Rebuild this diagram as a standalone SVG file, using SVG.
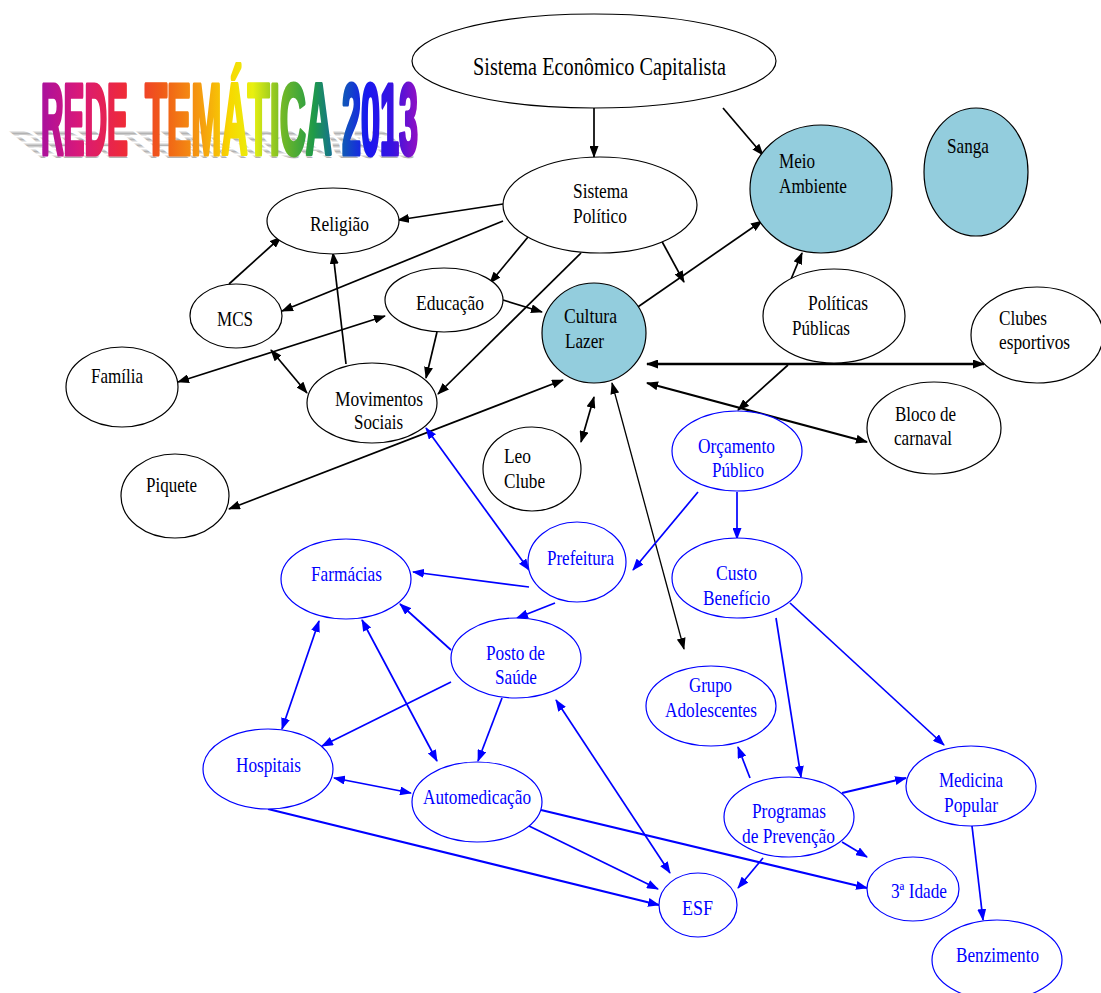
<svg xmlns="http://www.w3.org/2000/svg" width="1101" height="993" viewBox="0 0 1101 993">
<defs>
<style>
.nb{fill:#fff;stroke:#000;stroke-width:1.2}
.nc{fill:#93CDDD;stroke:#000;stroke-width:1.2}
.nu{fill:#fff;stroke:#0000FF;stroke-width:1.2}
text{font-family:"Liberation Serif","Times New Roman",serif;font-size:21px}
.tb{fill:#000}
.tu{fill:#0000FF}
.lk{stroke:#000;stroke-width:1.7;fill:none}
.lu{stroke:#0000FF;stroke-width:1.7;fill:none}
.ek{marker-end:url(#ak)}
.bk{marker-start:url(#ak);marker-end:url(#ak)}
.eu{marker-end:url(#au)}
.bu{marker-start:url(#au);marker-end:url(#au)}
.ttl{font-family:"Liberation Sans",Arial,sans-serif;font-weight:bold;font-size:100px}
</style>
<marker id="ak" markerUnits="userSpaceOnUse" markerWidth="12" markerHeight="9" refX="11" refY="4.5" orient="auto-start-reverse"><path d="M0,0 L12,4.5 L0,9 z" fill="#000"/></marker>
<marker id="au" markerUnits="userSpaceOnUse" markerWidth="12" markerHeight="9" refX="11" refY="4.5" orient="auto-start-reverse"><path d="M0,0 L12,4.5 L0,9 z" fill="#0000FF"/></marker>
<linearGradient id="rainbow" gradientUnits="userSpaceOnUse" x1="40" y1="0" x2="420" y2="0">
<stop offset="0" stop-color="#A8109E"/>
<stop offset="0.1" stop-color="#D8187A"/>
<stop offset="0.22" stop-color="#EE2A3A"/>
<stop offset="0.32" stop-color="#F05A18"/>
<stop offset="0.42" stop-color="#F59A10"/>
<stop offset="0.5" stop-color="#F8D800"/>
<stop offset="0.56" stop-color="#E8F010"/>
<stop offset="0.64" stop-color="#70B828"/>
<stop offset="0.72" stop-color="#1F9A48"/>
<stop offset="0.79" stop-color="#1060B0"/>
<stop offset="0.86" stop-color="#1818F0"/>
<stop offset="0.93" stop-color="#3A12E0"/>
<stop offset="1" stop-color="#9A10C0"/>
</linearGradient>
<pattern id="hatch" patternUnits="userSpaceOnUse" width="3" height="3"><rect width="3" height="1.4" fill="#9A9A9A"/></pattern>
</defs>
<rect width="1101" height="993" fill="#fff"/>

<g id="title">
<g transform="translate(0,158) skewX(50) scale(1,0.4) translate(0,-155)" fill="url(#hatch)" opacity="0.8">
<text class="ttl" x="39" y="155" textLength="90" lengthAdjust="spacingAndGlyphs">REDE</text>
<text class="ttl" x="143" y="155" textLength="190" lengthAdjust="spacingAndGlyphs">TEMÁTICA</text>
<text class="ttl" x="340" y="155" textLength="79" lengthAdjust="spacingAndGlyphs">2013</text>
</g>
<g fill="url(#rainbow)" stroke="url(#rainbow)" stroke-width="5" stroke-linejoin="round">
<text class="ttl" x="41" y="154" textLength="87" lengthAdjust="spacingAndGlyphs">REDE</text>
<text class="ttl" x="145" y="154" textLength="187" lengthAdjust="spacingAndGlyphs">TEMÁTICA</text>
<text class="ttl" x="342" y="154" textLength="76" lengthAdjust="spacingAndGlyphs">2013</text>
</g>
</g>

<g id="connectors">
<line class="lk ek" x1="594" y1="108" x2="594" y2="157"/>
<line class="lk ek" x1="723" y1="108" x2="763" y2="155"/>
<line class="lk ek" x1="503" y1="204" x2="398" y2="220"/>
<line class="lk ek" x1="503" y1="221" x2="282" y2="311"/>
<line class="lk ek" x1="528" y1="237" x2="490" y2="283"/>
<line class="lk ek" x1="581" y1="253" x2="438" y2="394"/>
<line class="lk ek" x1="229" y1="284" x2="281" y2="237"/>
<line class="lk ek" x1="346" y1="364" x2="333" y2="253"/>
<line class="lk ek" x1="437" y1="332" x2="426" y2="378"/>
<line class="lk ek" x1="503" y1="300" x2="542" y2="312"/>
<line class="lk bk" x1="178" y1="382" x2="385" y2="316"/>
<line class="lk bk" x1="271" y1="350" x2="307" y2="393"/>
<line class="lk bk" x1="229" y1="509" x2="563" y2="380"/>
<line class="lk ek" x1="632" y1="311" x2="762" y2="221"/>
<line class="lk ek" x1="659" y1="236" x2="684" y2="282"/>
<line class="lk ek" x1="789" y1="284" x2="802" y2="253"/>
<line class="lk bk" x1="647" y1="364" x2="984" y2="364" style="stroke-width:2.4"/>
<line class="lk bk" x1="647" y1="383" x2="867" y2="442" style="stroke-width:2.2"/>
<line class="lk ek" x1="788" y1="365" x2="738" y2="410"/>
<line class="lk bk" x1="581" y1="442" x2="594" y2="397"/>
<line class="lk bk" x1="612" y1="383" x2="684" y2="649" style="stroke-width:1.3"/>

<line class="lu eu" x1="698" y1="492" x2="633" y2="570"/>
<line class="lu eu" x1="737" y1="492" x2="737" y2="539"/>
<line class="lu eu" x1="776" y1="618" x2="801" y2="777"/>
<line class="lu eu" x1="790" y1="603" x2="944" y2="745"/>
<line class="lu eu" x1="750" y1="778" x2="738" y2="747"/>
<line class="lu eu" x1="842" y1="793" x2="906" y2="778" style="stroke-width:2.2"/>
<line class="lu eu" x1="842" y1="842" x2="867" y2="857"/>
<line class="lu eu" x1="763" y1="858" x2="738" y2="888"/>
<line class="lu eu" x1="972" y1="826" x2="983" y2="920"/>
<line class="lu eu" x1="541" y1="810" x2="867" y2="888" style="stroke-width:2.2"/>
<line class="lu eu" x1="529" y1="826" x2="658" y2="889"/>
<line class="lu eu" x1="268" y1="809" x2="659" y2="905" style="stroke-width:2.2"/>
<line class="lu bu" x1="334" y1="778" x2="411" y2="793"/>
<line class="lu bu" x1="556" y1="700" x2="670" y2="873"/>
<line class="lu eu" x1="502" y1="698" x2="478" y2="761"/>
<line class="lu eu" x1="451" y1="682" x2="322" y2="746"/>
<line class="lu eu" x1="451" y1="650" x2="400" y2="604"/>
<line class="lu bu" x1="319" y1="621" x2="282" y2="729"/>
<line class="lu bu" x1="362" y1="620" x2="437" y2="761"/>
<line class="lu eu" x1="529" y1="587" x2="413" y2="572"/>
<line class="lu eu" x1="555" y1="603" x2="517" y2="618"/>
<line class="lu bu" x1="426" y1="428" x2="529" y2="570"/>
</g>

<g id="n-sistema-economico"><ellipse class="nb" cx="594" cy="61" rx="182" ry="47"/><text class="tb" x="473" y="75" textLength="253" lengthAdjust="spacingAndGlyphs" style="font-size:25px">Sistema Econômico Capitalista</text></g>
<g id="n-sistema-politico"><ellipse class="nb" cx="600" cy="205" rx="97" ry="48"/><text class="tb" x="573" y="198" textLength="55" lengthAdjust="spacingAndGlyphs">Sistema</text><text class="tb" x="573" y="223" textLength="54" lengthAdjust="spacingAndGlyphs">Político</text></g>
<g id="n-religiao"><ellipse class="nb" cx="333" cy="221" rx="66" ry="33"/><text class="tb" x="310" y="231" textLength="59" lengthAdjust="spacingAndGlyphs">Religião</text></g>
<g id="n-mcs"><ellipse class="nb" cx="236" cy="316" rx="46" ry="32"/><text class="tb" x="217" y="326" textLength="36" lengthAdjust="spacingAndGlyphs">MCS</text></g>
<g id="n-educacao"><ellipse class="nb" cx="444" cy="300" rx="59" ry="32"/><text class="tb" x="416" y="310" textLength="68" lengthAdjust="spacingAndGlyphs">Educação</text></g>
<g id="n-cultura"><ellipse class="nc" cx="594" cy="333" rx="52" ry="50"/><text class="tb" x="564" y="323" textLength="53" lengthAdjust="spacingAndGlyphs">Cultura</text><text class="tb" x="565" y="348" textLength="39" lengthAdjust="spacingAndGlyphs">Lazer</text></g>
<g id="n-movimentos"><ellipse class="nb" cx="372" cy="403" rx="65" ry="40"/><text class="tb" x="335" y="406" textLength="88" lengthAdjust="spacingAndGlyphs">Movimentos</text><text class="tb" x="354" y="429" textLength="49" lengthAdjust="spacingAndGlyphs">Sociais</text></g>
<g id="n-meio"><ellipse class="nc" cx="821" cy="189" rx="71" ry="64"/><text class="tb" x="779" y="168" textLength="36" lengthAdjust="spacingAndGlyphs">Meio</text><text class="tb" x="779" y="193" textLength="68" lengthAdjust="spacingAndGlyphs">Ambiente</text></g>
<g id="n-sanga"><ellipse class="nc" cx="976" cy="172" rx="52" ry="64"/><text class="tb" x="947" y="153" textLength="42" lengthAdjust="spacingAndGlyphs">Sanga</text></g>
<g id="n-politicas"><ellipse class="nb" cx="834" cy="316" rx="71" ry="47"/><text class="tb" x="808" y="310" textLength="60" lengthAdjust="spacingAndGlyphs">Políticas</text><text class="tb" x="792" y="335" textLength="58" lengthAdjust="spacingAndGlyphs">Públicas</text></g>
<g id="n-clubes"><ellipse class="nb" cx="1037" cy="335" rx="66" ry="48"/><text class="tb" x="999" y="325" textLength="48" lengthAdjust="spacingAndGlyphs">Clubes</text><text class="tb" x="999" y="349" textLength="71" lengthAdjust="spacingAndGlyphs">esportivos</text></g>
<g id="n-bloco"><ellipse class="nb" cx="934" cy="428" rx="67" ry="46"/><text class="tb" x="895" y="421" textLength="61" lengthAdjust="spacingAndGlyphs">Bloco de</text><text class="tb" x="894" y="445" textLength="58" lengthAdjust="spacingAndGlyphs">carnaval</text></g>
<g id="n-familia"><ellipse class="nb" cx="122" cy="387" rx="56" ry="40"/><text class="tb" x="91" y="383" textLength="52" lengthAdjust="spacingAndGlyphs">Família</text></g>
<g id="n-piquete"><ellipse class="nb" cx="175" cy="496" rx="54" ry="42"/><text class="tb" x="146" y="492" textLength="51" lengthAdjust="spacingAndGlyphs">Piquete</text></g>
<g id="n-leo"><ellipse class="nb" cx="532" cy="469" rx="49" ry="42"/><text class="tb" x="504" y="463" textLength="27" lengthAdjust="spacingAndGlyphs">Leo</text><text class="tb" x="504" y="488" textLength="41" lengthAdjust="spacingAndGlyphs">Clube</text></g>

<g id="n-orcamento"><ellipse class="nu" cx="737" cy="451" rx="65" ry="40"/><text class="tu" x="698" y="453" textLength="77" lengthAdjust="spacingAndGlyphs">Orçamento</text><text class="tu" x="712" y="477" textLength="52" lengthAdjust="spacingAndGlyphs">Público</text></g>
<g id="n-prefeitura"><ellipse class="nu" cx="577" cy="562" rx="49" ry="40"/><text class="tu" x="547" y="565" textLength="67" lengthAdjust="spacingAndGlyphs">Prefeitura</text></g>
<g id="n-farmacias"><ellipse class="nu" cx="346" cy="579" rx="65" ry="40"/><text class="tu" x="311" y="581" textLength="71" lengthAdjust="spacingAndGlyphs">Farmácias</text></g>
<g id="n-posto"><ellipse class="nu" cx="516" cy="658" rx="65" ry="40"/><text class="tu" x="486" y="660" textLength="59" lengthAdjust="spacingAndGlyphs">Posto de</text><text class="tu" x="495" y="684" textLength="42" lengthAdjust="spacingAndGlyphs">Saúde</text></g>
<g id="n-custo"><ellipse class="nu" cx="737" cy="578" rx="65" ry="40"/><text class="tu" x="716" y="580" textLength="41" lengthAdjust="spacingAndGlyphs">Custo</text><text class="tu" x="703" y="605" textLength="67" lengthAdjust="spacingAndGlyphs">Benefício</text></g>
<g id="n-grupo"><ellipse class="nu" cx="711" cy="706" rx="65" ry="40"/><text class="tu" x="689" y="692" textLength="43" lengthAdjust="spacingAndGlyphs">Grupo</text><text class="tu" x="665" y="717" textLength="92" lengthAdjust="spacingAndGlyphs">Adolescentes</text></g>
<g id="n-programas"><ellipse class="nu" cx="789" cy="817" rx="65" ry="40"/><text class="tu" x="752" y="818" textLength="74" lengthAdjust="spacingAndGlyphs">Programas</text><text class="tu" x="742" y="843" textLength="93" lengthAdjust="spacingAndGlyphs">de Prevenção</text></g>
<g id="n-medicina"><ellipse class="nu" cx="971" cy="786" rx="65" ry="40"/><text class="tu" x="939" y="787" textLength="64" lengthAdjust="spacingAndGlyphs">Medicina</text><text class="tu" x="944" y="812" textLength="54" lengthAdjust="spacingAndGlyphs">Popular</text></g>
<g id="n-terceira"><ellipse class="nu" cx="913" cy="889" rx="46" ry="32"/><text class="tu" x="891" y="898" textLength="56" lengthAdjust="spacingAndGlyphs">3ª Idade</text></g>
<g id="n-esf"><ellipse class="nu" cx="698" cy="905" rx="39" ry="32"/><text class="tu" x="682" y="915" textLength="31" lengthAdjust="spacingAndGlyphs">ESF</text></g>
<g id="n-benzimento"><ellipse class="nu" cx="997" cy="960" rx="65" ry="40"/><text class="tu" x="956" y="962" textLength="83" lengthAdjust="spacingAndGlyphs">Benzimento</text></g>
<g id="n-hospitais"><ellipse class="nu" cx="268" cy="769" rx="65" ry="40"/><text class="tu" x="236" y="772" textLength="65" lengthAdjust="spacingAndGlyphs">Hospitais</text></g>
<g id="n-automedicacao"><ellipse class="nu" cx="477" cy="802" rx="65" ry="40"/><text class="tu" x="423" y="804" textLength="108" lengthAdjust="spacingAndGlyphs">Automedicação</text></g>
</svg>
